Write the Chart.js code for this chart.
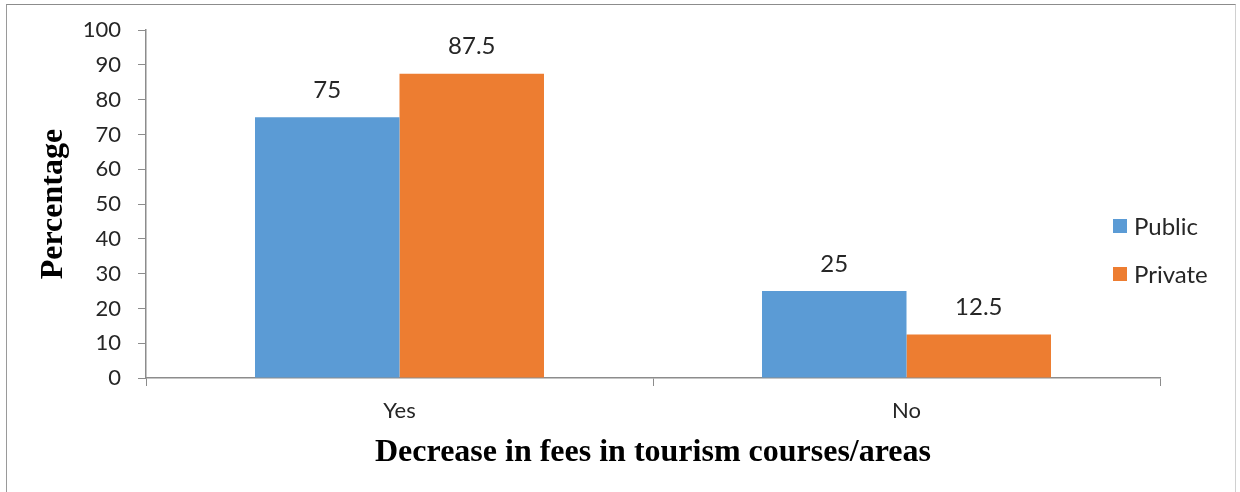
<!DOCTYPE html>
<html>
<head>
<meta charset="utf-8">
<script src="https://cdn.jsdelivr.net/npm/chart.js@4/dist/chart.umd.min.js"></script>
<style>
  html, body { margin: 0; padding: 0; background: #ffffff; }
  #wrap { position: relative; width: 1240px; height: 492px; overflow: hidden; }
  #frame { position: absolute; left: 6px; top: 4px; width: 1228px; height: 500px;
           border-left: 1px solid #9a9a9a; border-top: 1px solid #8c8c8c; border-right: 1px solid #d0d0d0; }
  #c { position: absolute; left: 0; top: 0; }
</style>
</head>
<body>
<div id="wrap">
  <div id="frame"></div>
  <canvas id="c" width="1240" height="492"></canvas>
</div>
<script>
const categories = ["Yes", "No"];
const publicValues = [75, 25];
const privateValues = [87.5, 12.5];
const seriesNames = ["Public", "Private"];
const seriesColors = ["#5B9BD5", "#ED7D31"];
const yTicks = [0, 10, 20, 30, 40, 50, 60, 70, 80, 90, 100];
const yTitle = "Percentage";
const xTitle = "Decrease in fees in tourism courses/areas";

const labelFont = '24px Lato, "Open Sans", sans-serif';
const axisGray = "#8c8c8c";

const valueLabels = {
  id: "valueLabels",
  afterDatasetsDraw(chart) {
    const ctx = chart.ctx;
    ctx.save();
    ctx.font = labelFont;
    ctx.fillStyle = "#262626";
    ctx.textAlign = "center";
    ctx.textBaseline = "middle";
    chart.data.datasets.forEach((ds, i) => {
      const meta = chart.getDatasetMeta(i);
      meta.data.forEach((bar, j) => {
        ctx.fillText(String(ds.data[j]), bar.x, bar.y - 27);
      });
    });
    ctx.restore();
  }
};

const sideLegend = {
  id: "sideLegend",
  afterDraw(chart) {
    const ctx = chart.ctx;
    ctx.save();
    ctx.font = labelFont;
    ctx.textBaseline = "middle";
    ctx.textAlign = "left";
    const x0 = 1113, y0 = 226, step = 48, box = 14;
    chart.data.datasets.forEach((ds, i) => {
      const y = y0 + i * step;
      ctx.fillStyle = ds.backgroundColor;
      ctx.fillRect(x0, y - box / 2, box, box);
      ctx.fillStyle = "#262626";
      ctx.fillText(ds.label, x0 + 21, y + 1);
    });
    ctx.restore();
  }
};

new Chart(document.getElementById("c"), {
  type: "bar",
  data: {
    labels: categories,
    datasets: [
      { label: seriesNames[0], data: publicValues, backgroundColor: seriesColors[0] },
      { label: seriesNames[1], data: privateValues, backgroundColor: seriesColors[1] }
    ]
  },
  options: {
    responsive: false,
    animation: false,
    devicePixelRatio: 1,
    layout: { padding: { left: 20, top: 29, right: 80, bottom: 0 } },
    datasets: { bar: { categoryPercentage: 0.57, barPercentage: 1.0 } },
    plugins: {
      legend: { display: false },
      tooltip: { enabled: false }
    },
    scales: {
      x: {
        grid: { display: true, drawOnChartArea: false, color: axisGray, tickLength: 8, offset: true },
        border: { display: true, color: axisGray, width: 1.5 },
        ticks: { font: { family: "Lato, 'Open Sans', sans-serif", size: 22 }, color: "#262626", padding: 12 },
        title: { display: true, text: xTitle, font: { family: "'Liberation Serif', 'Times New Roman', serif", size: 32, weight: "bold" }, color: "#000000", padding: { top: 0, bottom: 20 } },
        afterFit(scale) { scale.height = 114; }
      },
      y: {
        min: 0, max: 100,
        afterBuildTicks(scale) { scale.ticks = yTicks.map(v => ({ value: v })); },
        grid: { display: true, drawOnChartArea: false, color: axisGray, tickLength: 8 },
        border: { display: true, color: axisGray, width: 1.5 },
        ticks: { font: { family: "Lato, 'Open Sans', sans-serif", size: 22 }, color: "#262626", padding: 17 },
        title: { display: true, text: yTitle, font: { family: "'Liberation Serif', 'Times New Roman', serif", size: 32, weight: "bold" }, color: "#000000", padding: { top: 15, bottom: 0 } },
        afterFit(scale) { scale.width = 126; }
      }
    }
  },
  plugins: [valueLabels, sideLegend]
});
</script>
</body>
</html>
